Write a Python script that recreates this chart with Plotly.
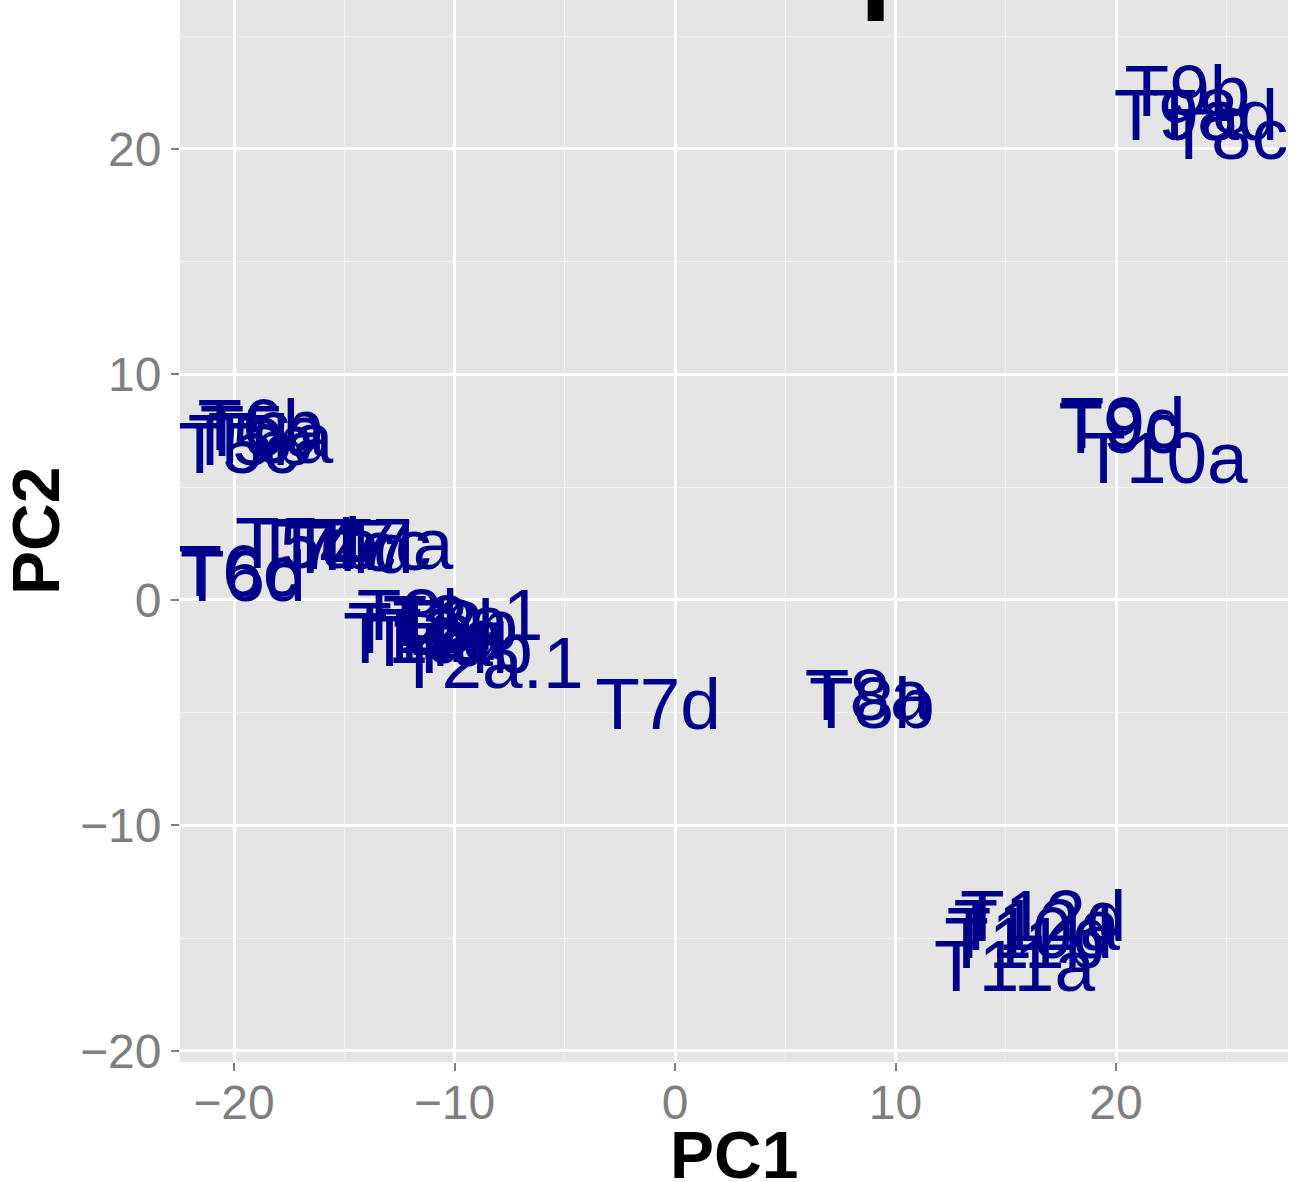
import plotly.graph_objects as go

# ---- data ----
labels = [
    "T5a", "T5b", "T5c", "T6a", "T6b",
    "T5d", "T7b", "T4c", "T4d", "T7c", "T7a",
    "T6c", "T6d",
    "T1a", "T1b", "T4a", "T2a", "T3a", "T2b", "T4b", "T3b.1", "T2a.1",
    "T7d",
    "T8a", "T8b",
    "T9c", "T9d", "T10a",
    "T9b", "T9a", "T8d", "T8c",
    "T12d", "T12a", "T10d", "T11b", "T11a",
]
pc1 = [
    -18.7, -19.25, -19.8, -18.35, -18.8,
    -17.1, -16.3, -15.4, -14.7, -13.8, -12.9,
    -19.8, -19.6,
    -12.2, -12.0, -11.1, -10.65, -10.4, -9.97, -9.3, -10.2, -8.38,
    -0.77,
    8.74, 8.93,
    20.15, 20.3, 22.2,
    23.24, 22.75, 24.5, 25.05,
    16.7, 16.4, 16.1, 15.86, 15.4,
]
pc2 = [
    7.18, 6.78, 6.43, 6.88, 7.45,
    2.23, 2.18, 2.08, 1.98, 2.13, 2.18,
    0.98, 0.78,
    -1.99, -1.55, -2.12, -1.82, -1.22, -1.42, -2.42, -0.97, -3.1,
    -4.92,
    -4.52, -4.87,
    7.33, 7.54, 5.98,
    22.28, 21.18, 21.18, 20.38,
    -14.32, -14.72, -15.07, -15.52, -16.52,
]

# black element cut by the top of the panel
extra_x = [9.1]
extra_y = [26.6]

x_ticks = [-20, -10, 0, 10, 20]
y_ticks = [-20, -10, 0, 10, 20]
x_range = [-22.45, 27.8]
y_range = [-20.49, 26.6]

FONT = "Liberation Sans, Arial, sans-serif"
GREY = "#7F7F7F"

fig = go.Figure()
fig.add_trace(go.Scatter(
    x=pc1, y=pc2, text=labels, mode="text",
    textposition="middle center",
    textfont=dict(family=FONT, size=73, color="#00008B"),
    cliponaxis=True, hoverinfo="text",
))
fig.add_trace(go.Scatter(
    x=extra_x, y=extra_y, mode="markers",
    marker=dict(symbol="line-ns-open", size=30, color="black",
                line=dict(width=16, color="black")),
    cliponaxis=True, hoverinfo="skip",
))

axis_common = dict(
    showgrid=True, gridcolor="white", gridwidth=2.5,
    minor=dict(dtick=5, showgrid=True, gridcolor="#F2F2F2", gridwidth=1.2),
    zeroline=False, showline=False, automargin=False,
    ticks="outside", ticklen=8, tickwidth=2, tickcolor=GREY,
    tickfont=dict(family=FONT, size=48, color=GREY),
)

fig.update_layout(
    width=1296, height=1182,
    margin=dict(l=180, r=8, t=0, b=120),
    plot_bgcolor="#E5E5E5", paper_bgcolor="white",
    showlegend=False,
    xaxis=dict(range=x_range, tickvals=x_ticks, ticklabelstandoff=-10, **axis_common),
    yaxis=dict(range=y_range, tickvals=y_ticks, **axis_common),
    annotations=[
        dict(text="<b>PC1</b>", xref="paper", yref="paper", x=0.5, y=0,
             yshift=-93, xanchor="center", yanchor="middle", showarrow=False,
             font=dict(family=FONT, size=66, color="black")),
        dict(text="<b>PC2</b>", xref="paper", yref="paper", x=0, y=0.5,
             xshift=-144, xanchor="center", yanchor="middle", showarrow=False,
             textangle=-90, font=dict(family=FONT, size=66, color="black")),
    ],
)

fig.write_html("out.html", config={"displayModeBar": False},
               post_script="document.body.style.margin='0';")
